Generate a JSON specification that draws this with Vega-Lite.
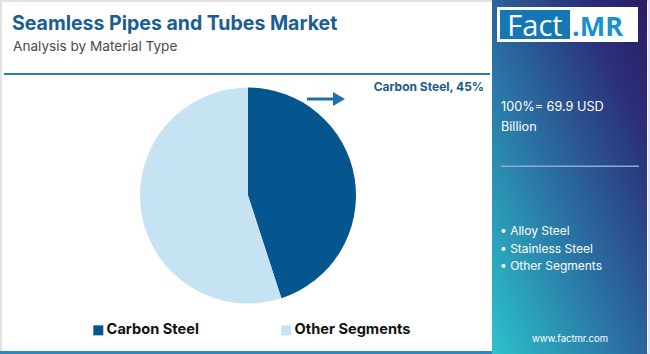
{
  "$schema": "https://vega.github.io/schema/vega-lite/v6.json",
  "width": 650,
  "height": 354,
  "autosize": "none",
  "padding": 0,
  "background": "#ffffff",
  "config": {"view": {"stroke": null}},
  "layer": [
    {
      "data": {"values": [{}]},
      "mark": {"type": "rect", "x": 1, "x2": 649, "y": 1, "y2": 353, "fill": "#ffffff", "stroke": "#e2e2e2", "strokeWidth": 2},
      "encoding": {}
    },
    {
      "data": {"values": [{}]},
      "mark": {"type": "rect", "x": 492, "x2": 647, "y": 0, "y2": 354,
        "fill": {"gradient": "linear", "x1": 0, "y1": 1, "x2": 1, "y2": 0,
          "stops": [{"offset": 0, "color": "#2cc3ca"}, {"offset": 0.45, "color": "#2a6da1"}, {"offset": 0.8, "color": "#2b2f78"}, {"offset": 1, "color": "#2c1a66"}]}},
      "encoding": {}
    },
    {
      "data": {"values": [{}]},
      "mark": {"type": "rect", "x": 4, "x2": 490, "y": 73, "y2": 75, "fill": "#2b7bb6"},
      "encoding": {}
    },
    {
      "data": {"values": [{}]},
      "mark": {"type": "rect", "x": 0, "x2": 492, "y": 351, "y2": 354, "fill": "#3185bd"},
      "encoding": {}
    },
    {
      "data": {"values": [{}]},
      "mark": {"type": "text", "x": 12, "y": 30, "text": "Seamless Pipes and Tubes Market", "align": "left", "baseline": "alphabetic", "font": "Inter", "fontSize": 19.5, "fontWeight": "bold", "fill": "#1a5d92"},
      "encoding": {}
    },
    {
      "data": {"values": [{}]},
      "mark": {"type": "text", "x": 13, "y": 51, "text": "Analysis by Material Type", "align": "left", "baseline": "alphabetic", "font": "Inter", "fontSize": 13.6, "fill": "#4a4a4a"},
      "encoding": {}
    },
    {
      "data": {"values": [{"segment": "Carbon Steel", "share": 45}, {"segment": "Other Segments", "share": 55}]},
      "mark": {"type": "arc", "outerRadius": 108, "x": 248, "y": 195.5, "stroke": null},
      "encoding": {
        "theta": {"field": "share", "type": "quantitative", "stack": true},
        "order": {"field": "share", "type": "quantitative", "sort": "ascending"},
        "color": {
          "field": "segment", "type": "nominal",
          "scale": {"domain": ["Carbon Steel", "Other Segments"], "range": ["#05568f", "#c6e3f3"]},
          "legend": {
            "title": null, "orient": "none", "legendX": 91, "legendY": 323, "direction": "horizontal", "columns": 2,
            "padding": 0, "symbolType": "square", "symbolSize": 100, "symbolStrokeWidth": 0,
            "labelFont": "Inter", "labelFontSize": 14.6, "labelFontWeight": "bold", "labelColor": "#111111",
            "labelOffset": 1, "columnPadding": 80, "labelLimit": 300
          }
        }
      }
    },
    {
      "data": {"values": [{}]},
      "mark": {"type": "rect", "x": 307, "x2": 336, "y": 97.5, "y2": 100.5, "fill": "#1f6fad"},
      "encoding": {}
    },
    {
      "data": {"values": [{}]},
      "mark": {"type": "point", "shape": "triangle-right", "x": 339, "y": 99, "size": 190, "filled": true, "fill": "#1f6fad", "opacity": 1},
      "encoding": {}
    },
    {
      "data": {"values": [{}]},
      "mark": {"type": "text", "x": 484, "y": 87, "text": "Carbon Steel, 45%", "align": "right", "baseline": "middle", "font": "Inter", "fontSize": 12, "fontWeight": "bold", "fill": "#1a5a8c"},
      "encoding": {}
    },
    {
      "data": {"values": [{}]},
      "mark": {"type": "rect", "x": 497, "x2": 638, "y": 7, "y2": 42, "fill": "#ffffff"},
      "encoding": {}
    },
    {
      "data": {"values": [{}]},
      "mark": {"type": "rect", "x": 500, "x2": 570, "y": 10, "y2": 39, "fill": "#1577b5"},
      "encoding": {}
    },
    {
      "data": {"values": [{}]},
      "mark": {"type": "text", "x": 535, "y": 36, "text": "Fact", "align": "center", "baseline": "alphabetic", "font": "Open Sans", "fontSize": 29, "fill": "#ffffff"},
      "encoding": {}
    },
    {
      "data": {"values": [{}]},
      "mark": {"type": "text", "x": 572, "y": 36, "text": ".MR", "align": "left", "baseline": "alphabetic", "font": "Open Sans", "fontSize": 27, "fontWeight": "bold", "fill": "#1a8fd3"},
      "encoding": {}
    },
    {
      "data": {"values": [{}]},
      "mark": {"type": "text", "x": 501, "y": 107, "text": "100%= 69.9 USD", "align": "left", "baseline": "middle", "font": "Inter", "fontSize": 12.7, "fill": "#ffffff"},
      "encoding": {}
    },
    {
      "data": {"values": [{}]},
      "mark": {"type": "text", "x": 501, "y": 127, "text": "Billion", "align": "left", "baseline": "middle", "font": "Inter", "fontSize": 12.7, "fill": "#ffffff"},
      "encoding": {}
    },
    {
      "data": {"values": [{}]},
      "mark": {"type": "rect", "x": 501, "x2": 639, "y": 165.5, "y2": 167, "fill": "#8fa9d4"},
      "encoding": {}
    },
    {
      "data": {"values": [{}]},
      "mark": {"type": "text", "x": 500, "y": 231, "text": "• Alloy Steel", "align": "left", "baseline": "middle", "font": "Inter", "fontSize": 12, "fill": "#ffffff"},
      "encoding": {}
    },
    {
      "data": {"values": [{}]},
      "mark": {"type": "text", "x": 500, "y": 249, "text": "• Stainless Steel", "align": "left", "baseline": "middle", "font": "Inter", "fontSize": 12, "fill": "#ffffff"},
      "encoding": {}
    },
    {
      "data": {"values": [{}]},
      "mark": {"type": "text", "x": 500, "y": 266, "text": "• Other Segments", "align": "left", "baseline": "middle", "font": "Inter", "fontSize": 12, "fill": "#ffffff"},
      "encoding": {}
    },
    {
      "data": {"values": [{}]},
      "mark": {"type": "text", "x": 570, "y": 339, "text": "www.factmr.com", "align": "center", "baseline": "middle", "font": "Inter", "fontSize": 9.5, "fill": "#ffffff"},
      "encoding": {}
    }
  ]
}
